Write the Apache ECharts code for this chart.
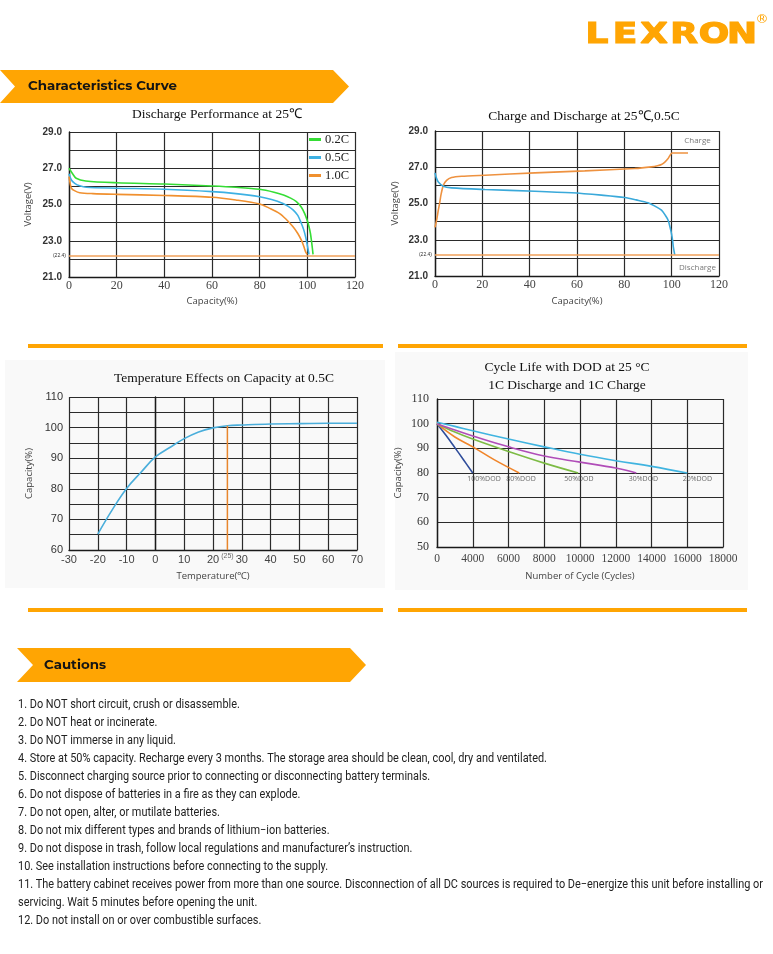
<!DOCTYPE html>
<html><head><meta charset="utf-8">
<script src="https://cdn.jsdelivr.net/npm/echarts@6/dist/echarts.min.js"></script>
<style>html,body{margin:0;padding:0;background:#fff}#c{width:773px;height:954px}</style>
</head><body><div id="c"></div>
<script>
// ---------- Chart 1: Discharge Performance at 25℃ (capacity %, voltage V) ----------
const dis02C = [[0,27.0],[1.5,26.7],[3,26.45],[7,26.3],[20,26.2],[40,26.13],[60,26.02],[70,25.95],[80,25.84],[86,25.68],[90,25.52],[93,25.35],[95.4,25.16],[97.5,24.85],[98.9,24.5],[100,24.1],[100.7,23.77],[101.3,23.4],[101.7,23.03],[102.1,22.6],[102.4,22.25]];
const dis05C = [[0,26.7],[1,26.35],[2.4,26.17],[4.5,26.03],[7.3,25.95],[20,25.9],[40,25.84],[60,25.71],[70,25.6],[80,25.43],[85,25.28],[89.8,25.06],[92,24.9],[94,24.7],[96,24.4],[97.5,23.95],[98.5,23.6],[99.3,23.2],[100,22.75],[100.7,22.25]];
const dis10C = [[0,26.54],[0.5,26.15],[1,25.9],[2.5,25.75],[4.5,25.65],[10,25.6],[20,25.56],[40,25.5],[60,25.4],[70,25.25],[80,25.03],[84,24.8],[88.4,24.5],[91,24.2],[94,23.77],[96,23.4],[97.5,23.03],[98.5,22.7],[99.3,22.38],[99.9,22.25]];
const cutoffVoltage = 22.2;
const cutoffLabel = '(22.4)';
// ---------- Chart 2: Charge and Discharge at 25℃,0.5C ----------
const chargeCurve = [[0,23.68],[0.7,24.1],[1.4,24.63],[2,25.05],[2.5,25.46],[3.5,26.0],[4.9,26.28],[7,26.43],[11.3,26.5],[21.1,26.56],[42.2,26.69],[63.3,26.8],[84.4,26.93],[91.4,27.02],[94,27.08],[95.7,27.15],[97,27.27],[98.5,27.48],[100.2,27.79],[106.9,27.79]];
const dischargeCurve = [[0,26.69],[0.6,26.4],[1.4,26.19],[3.5,25.95],[7,25.86],[21.1,25.77],[42.2,25.68],[57.7,25.59],[70.3,25.46],[80.2,25.33],[85,25.2],[90,25.04],[93,24.85],[95.7,24.63],[97.3,24.35],[98.5,24.08],[99.3,23.7],[99.9,23.35],[100.4,22.95],[100.7,22.61],[101.3,22.16]];
const chargeTextPos = [[110.9,28.45],[110.9,21.46]];
const chargeTextNames = ['Charge','Discharge'];
// ---------- Chart 3: Temperature Effects on Capacity at 0.5C ----------
const tempC = [-20,-15,-10,-5,0,5,10,15,20,25,30,40,50,60,70];
const tempCapacity = [65.2,73.1,80.1,85.4,90.4,93.5,96.4,98.6,99.9,100.6,100.85,101.2,101.3,101.4,101.4];
const refTemp = 25;
// ---------- Chart 4: Cycle Life with DOD at 25℃ ----------
const cycleTicks = [0,4000,6000,8000,10000,12000,14000,16000,18000];
const dod100 = [[0,100],[1000,95.3],[2000,90.3],[3000,85.2],[4000,80]];
const dod80 = [[0,100],[2000,94.6],[4000,90.6],[5216,85.3],[6600,80]];
const dod50 = [[0,100],[2000,96.6],[4000,93.75],[6000,88.7],[8000,84],[9900,80]];
const dod30 = [[0,100],[2000,97.4],[4000,95],[6000,90.6],[8000,86.9],[10000,84.4],[12000,82],[13150,80]];
const dod20 = [[0,100.6],[2000,98.9],[4000,97.1],[6000,93.75],[8000,90.6],[10000,87.6],[12000,85],[14000,82.7],[16000,80]];
const dodNames = ['100%DOD','80%DOD','50%DOD','30%DOD','20%DOD'];
const dodLabelCycles = [4630,6700,9940,13550,16570];
const dodLabelCapacity = 77.7;
// ---------- Cautions ----------
const cautions = [
"1. Do NOT short circuit, crush or disassemble.",
"2. Do NOT heat or incinerate.",
"3. Do NOT immerse in any liquid.",
"4. Store at 50% capacity. Recharge every 3 months. The storage area should be clean, cool, dry and ventilated.",
"5. Disconnect charging source prior to connecting or disconnecting battery terminals.",
"6. Do not dispose of batteries in a fire as they can explode.",
"7. Do not open, alter, or mutilate batteries.",
"8. Do not mix different types and brands of lithium\u2212ion batteries.",
"9. Do not dispose in trash, follow local regulations and manufacturer\u2019s instruction.",
"10. See installation instructions before connecting to the supply.",
"11. The battery cabinet receives power from more than one source. Disconnection of all DC sources is required to De\u2212energize this unit before installing or",
"servicing. Wait 5 minutes before opening the unit.",
"12. Do not install on or over combustible surfaces."
];

// ---------- helpers ----------
const ORANGE = '#ffa503';
const mctx = document.createElement('canvas').getContext('2d');
function fitScale(text, font, target){ mctx.font = font; return target / mctx.measureText(text).width; }
function cyclePos(c){
  for (let i=0;i<cycleTicks.length-1;i++){
    if (c <= cycleTicks[i+1]) return i + (c - cycleTicks[i])/(cycleTicks[i+1]-cycleTicks[i]);
  }
  return cycleTicks.length-1;
}
const SANS = '"Liberation Sans", Arial, sans-serif';
const SERIF = '"Liberation Serif", "Times New Roman", serif';
const OPEN = '"Open Sans", "Noto Sans", sans-serif';
const GRID_LINE = {show:true, lineStyle:{color:'#2b2b2b', width:1.2}};
const AXIS_LINE = {show:true, lineStyle:{color:'#1a1a1a', width:1.4}};

function xAxis(gi, min, max, interval, labelFont, labelSize, margin, name, nameGap, fmt){
  return {type:'value', gridIndex:gi, min, max, interval, axisLine:AXIS_LINE, axisTick:{show:false},
    splitLine:GRID_LINE, name, nameLocation:'middle', nameGap,
    nameTextStyle:{fontFamily:OPEN, fontSize:9.5, color:'#444'},
    axisLabel:{fontFamily:labelFont, fontSize:labelSize, color:'#444', margin, formatter:fmt, showMinLabel:true, showMaxLabel:true}};
}
function yAxis(gi, min, max, interval, labelFont, labelSize, margin, name, nameGap, fmt, bold){
  return {type:'value', gridIndex:gi, min, max, interval, axisLine:AXIS_LINE, axisTick:{show:false},
    splitLine:GRID_LINE, name, nameLocation:'middle', nameGap,
    nameTextStyle:{fontFamily:OPEN, fontSize:9.5, color:'#444'},
    axisLabel:{fontFamily:labelFont, fontSize:labelSize, color:'#333', margin, formatter:fmt, fontWeight: bold?'bold':'normal', showMinLabel:true, showMaxLabel:true}};
}
function line(name, data, color, gi, extra){
  return Object.assign({type:'line', name, data, xAxisIndex:gi, yAxisIndex:gi, symbol:'none', showSymbol:false,
    smooth:0.3, lineStyle:{color, width:1.6}, itemStyle:{color}, silent:true, z:3}, extra||{});
}
function labelScatter(gi, items, size, font, color){
  return {type:'scatter', xAxisIndex:gi, yAxisIndex:gi, symbolSize:1, itemStyle:{color:'rgba(0,0,0,0)'}, silent:true, z:4,
    data: items, label:{show:true, position:'inside', formatter:'{b}', fontFamily:font, fontSize:size, color}};
}
function cutoffMark(){
  return {symbol:'none', silent:true, data:[{yAxis:cutoffVoltage}], lineStyle:{color:'#f0a15a', width:1.6, type:'solid'},
    label:{show:true, position:'start', formatter:cutoffLabel, fontSize:5, color:'#333', distance:3}};
}

const chart = echarts.init(document.getElementById('c'), null, {renderer:'canvas'});

// graphics: banners, logo, titles, separators, cautions
const g = [];
g.push({type:'rect', shape:{x:5,y:360,width:380,height:228}, style:{fill:'#f9f9f9'}, z:-10});
g.push({type:'rect', shape:{x:395,y:352,width:353,height:238}, style:{fill:'#f9f9f9'}, z:-10});
// logo
const logoLetters = ['L','E','X','R','O','N'];
const logoCenters = [597,625,654,684,714,742];
const logoFont = 'bold 28px "DejaVu Sans", sans-serif';
logoLetters.forEach((ch,i)=>{
  g.push({type:'text', x:logoCenters[i], y:36, scaleX:1.28, style:{text:ch, font:logoFont, fill:ORANGE, stroke:ORANGE, lineWidth:1.2, align:'center', verticalAlign:'middle'}});
});
g.push({type:'text', x:762, y:20, style:{text:'\u00AE', font:'13px "DejaVu Sans", sans-serif', fill:ORANGE, align:'center', verticalAlign:'middle'}});
// banners
g.push({type:'polygon', shape:{points:[[0,70],[333,70],[349,86.5],[333,103],[0,103],[15,86.5]]}, style:{fill:ORANGE}});
const bFont = 'bold 13px Montserrat, Inter, "Open Sans", sans-serif';
g.push({type:'text', x:28, y:86.5, scaleX:fitScale('Characteristics Curve', bFont, 149), style:{text:'Characteristics Curve', font:bFont, fill:'#141414', verticalAlign:'middle'}});
g.push({type:'polygon', shape:{points:[[17,648],[350,648],[366,665],[350,682],[17,682],[33,665]]}, style:{fill:ORANGE}});
g.push({type:'text', x:44, y:665, scaleX:fitScale('Cautions', bFont, 62), style:{text:'Cautions', font:bFont, fill:'#141414', verticalAlign:'middle'}});
// separators
[[28,344],[398,344],[28,608],[398,608]].forEach(p=>{
  g.push({type:'rect', shape:{x:p[0], y:p[1], width:(p[0]<100?355:349), height:4}, style:{fill:ORANGE}});
});
// chart titles
const tFont = '13.5px ' + SERIF;
g.push({type:'text', x:217, y:114, style:{text:'Discharge Performance at 25\u2103', font:tFont, fill:'#111', align:'center', verticalAlign:'middle'}});
g.push({type:'text', x:584, y:116, style:{text:'Charge and Discharge at 25\u2103,0.5C', font:tFont, fill:'#111', align:'center', verticalAlign:'middle'}});
g.push({type:'text', x:224, y:378, style:{text:'Temperature Effects on Capacity at 0.5C', font:tFont, fill:'#111', align:'center', verticalAlign:'middle'}});
g.push({type:'text', x:567, y:367, style:{text:'Cycle Life with DOD at 25 \u00B0C', font:tFont, fill:'#111', align:'center', verticalAlign:'middle'}});
g.push({type:'text', x:567, y:385, style:{text:'1C Discharge and 1C Charge', font:tFont, fill:'#111', align:'center', verticalAlign:'middle'}});
// cautions text
const cFont = '12px Roboto, "Noto Sans", sans-serif';
const cScale = fitScale(cautions[3], cFont, 529);
cautions.forEach((t,i)=>{
  g.push({type:'text', x:18, y:705 + i*18, scaleX:cScale, style:{text:t, font:cFont, fill:'#222', verticalAlign:'middle'}});
});

const option = {
  animation:false,
  backgroundColor:'#fff',
  grid:[
    {left:69, top:132, width:286, height:145},
    {left:435, top:131, width:284, height:145},
    {left:69, top:397, width:288, height:153},
    {left:437, top:399, width:286, height:148}
  ],
  legend:{show:true, data:['0.2C','0.5C','1.0C'], orient:'vertical', left:309, top:133, itemWidth:12, itemHeight:3, itemGap:5, icon:'rect',
    textStyle:{fontFamily:SERIF, fontSize:12.5, color:'#222', padding:[0,0,0,-1]}, padding:0, selectedMode:false},
  xAxis:[
    xAxis(0,0,120,20,SERIF,12,3,'Capacity(%)',19),
    xAxis(1,0,120,20,SERIF,12,3,'Capacity(%)',20),
    xAxis(2,-30,70,10,SANS,11,4,'Temperature(\u2103)',21),
    xAxis(3,0,cycleTicks.length-1,1,SERIF,11.5,6,'Number of Cycle (Cycles)',24, v=>cycleTicks[Math.round(v)])
  ],
  yAxis:[
    yAxis(0,21,29,1,SANS,10,7,'Voltage(V)',36, v=> (Math.round(v)%2===1 ? v.toFixed(1) : ''), true),
    yAxis(1,21,29,1,SANS,10,7,'Voltage(V)',35, v=> (Math.round(v)%2===1 ? v.toFixed(1) : ''), true),
    yAxis(2,60,110,5,SANS,11,6,'Capacity(%)',35, v=> (v%10===0 ? v : '')),
    yAxis(3,50,110,10,SERIF,12,8,'Capacity(%)',34, v=>v)
  ],
  series:[
    line('0.2C', dis02C, '#35dd35', 0),
    line('0.5C', dis05C, '#3db1e3', 0),
    line('1.0C', dis10C, '#f0902f', 0, {markLine:cutoffMark()}),
    line('Charge', chargeCurve, '#ee9240', 1, {markLine:cutoffMark(), smooth:0.2}),
    line('Discharge', dischargeCurve, '#3aa9da', 1),
    labelScatter(1, chargeTextNames.map((n,i)=>({name:n, value:chargeTextPos[i]})), 8, OPEN, '#555'),
    line('Temperature', tempC.map((t,i)=>[t,tempCapacity[i]]), '#4aaedb', 2, {smooth:0.4}),
    line('RefTemp', [[refTemp,60],[refTemp,tempCapacity[tempC.indexOf(refTemp)]]], '#e8862c', 2, {smooth:false, lineStyle:{color:'#e8862c', width:1.5}}),
    {type:'scatter', xAxisIndex:2, yAxisIndex:2, symbolSize:1, itemStyle:{color:'rgba(0,0,0,0)'}, silent:true,
      data:[{name:'('+refTemp+')', value:[refTemp,60]}], label:{show:true, position:'bottom', distance:2, formatter:'{b}', fontFamily:SANS, fontSize:7, color:'#444'}},
    line('100%DOD', dod100.map(p=>[cyclePos(p[0]),p[1]]), '#2f4d9b', 3, {smooth:0.4}),
    line('80%DOD', dod80.map(p=>[cyclePos(p[0]),p[1]]), '#f0852a', 3, {smooth:0.4}),
    line('50%DOD', dod50.map(p=>[cyclePos(p[0]),p[1]]), '#7dbb45', 3, {smooth:0.4}),
    line('30%DOD', dod30.map(p=>[cyclePos(p[0]),p[1]]), '#b04db8', 3, {smooth:0.4}),
    line('20%DOD', dod20.map(p=>[cyclePos(p[0]),p[1]]), '#40b4e0', 3, {smooth:0.4}),
    labelScatter(3, dodNames.map((n,i)=>({name:n, value:[cyclePos(dodLabelCycles[i]), dodLabelCapacity]})), 7, OPEN, '#444')
  ],
  graphic:{elements:g}
};
chart.setOption(option);
</script>
</body></html>
